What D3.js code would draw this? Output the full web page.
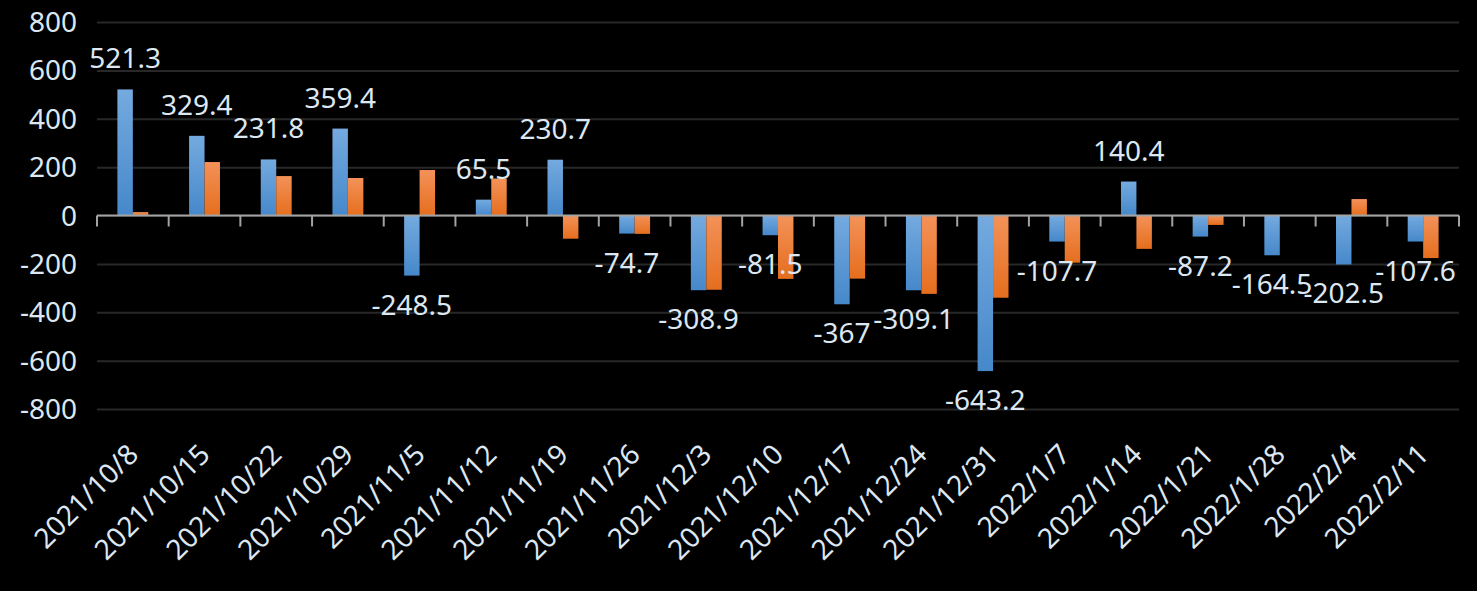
<!DOCTYPE html>
<html>
<head>
<meta charset="utf-8">
<script src="https://cdn.jsdelivr.net/npm/d3@7"></script>
<style>
  html, body { margin: 0; padding: 0; background: #000; }
  svg { display: block; }
  text { font-family: "Noto Sans", "Open Sans", sans-serif; fill: #dde7f2; }
</style>
</head>
<body>
<svg id="chart"></svg>
<script>
// week labels
const categories = [
  '2021/10/8', '2021/10/15', '2021/10/22', '2021/10/29', '2021/11/5',
  '2021/11/12', '2021/11/19', '2021/11/26', '2021/12/3', '2021/12/10',
  '2021/12/17', '2021/12/24', '2021/12/31', '2022/1/7', '2022/1/14',
  '2022/1/21', '2022/1/28', '2022/2/4', '2022/2/11'
];

// blue series (labelled)
const seriesBlue = [
  521.3, 329.4, 231.8, 359.4, -248.5, 65.5, 230.7, -74.7, -308.9, -81.5,
  -367, -309.1, -643.2, -107.7, 140.4, -87.2, -164.5, -202.5, -107.6
];

// orange series (no labels)
const seriesOrange = [
  14, 221, 163, 155, 188, 153, -96, -76, -307, -262,
  -261, -324, -340, -195, -138, -39, null, 68, -176
];

const yTicks = [-800, -600, -400, -200, 0, 200, 400, 600, 800];

const width = 1477;
const height = 591;
const margin = { top: 22, right: 18, bottom: 182, left: 97 };

const svg = d3.select('#chart')
  .attr('width', width)
  .attr('height', height);

const chartWidth = width - margin.left - margin.right;
const chartHeight = height - margin.top - margin.bottom;

const g = svg.append('g')
  .attr('transform', `translate(${margin.left}, ${margin.top})`);

// gradients like the spreadsheet fill
const defs = svg.append('defs');
const grads = [
  { id: 'gBlue', top: '#74aadf', bottom: '#4688ca' },
  { id: 'gOrange', top: '#f39259', bottom: '#e56e1e' }
];
grads.forEach((gd) => {
  const lg = defs.append('linearGradient')
    .attr('id', gd.id)
    .attr('x1', 0).attr('y1', 0).attr('x2', 0).attr('y2', 1);
  lg.append('stop').attr('offset', '0%').attr('stop-color', gd.top);
  lg.append('stop').attr('offset', '100%').attr('stop-color', gd.bottom);
});

// scales
const xScale = d3.scaleBand()
  .domain(categories)
  .range([0, chartWidth]);

const series = ['blue', 'orange'];
const xInner = d3.scaleBand()
  .domain(series)
  .range([0, xScale.bandwidth()])
  .paddingOuter(1.32);

const yScale = d3.scaleLinear()
  .domain([-800, 800])
  .range([chartHeight, 0]);

// grid lines
g.append('g')
  .call(d3.axisLeft(yScale).tickValues(yTicks).tickSize(-chartWidth).tickFormat(''))
  .call((s) => s.select('.domain').remove())
  .call((s) => s.selectAll('line').attr('stroke', '#282828').attr('stroke-width', 2));

// y tick labels
g.append('g')
  .selectAll('text')
  .data(yTicks)
  .enter()
  .append('text')
  .attr('x', -20)
  .attr('y', (d) => yScale(d))
  .attr('dy', '0.36em')
  .style('text-anchor', 'end')
  .style('font-size', '28px')
  .text((d) => d);

// bars
const rows = categories.map((c, i) => ({
  cat: c,
  values: [
    { key: 'blue', v: seriesBlue[i] },
    { key: 'orange', v: seriesOrange[i] }
  ]
}));

const groups = g.selectAll('.grp')
  .data(rows)
  .enter()
  .append('g')
  .attr('transform', (d) => `translate(${xScale(d.cat)}, 0)`);

groups.selectAll('rect')
  .data((d) => d.values.filter((e) => e.v !== null))
  .enter()
  .append('rect')
  .attr('x', (d) => xInner(d.key))
  .attr('width', xInner.bandwidth())
  .attr('y', (d) => yScale(Math.max(0, d.v)))
  .attr('height', (d) => Math.abs(yScale(d.v) - yScale(0)))
  .attr('fill', (d) => (d.key === 'blue' ? 'url(#gBlue)' : 'url(#gOrange)'));

// zero axis line with ticks
const xAxis = g.append('g')
  .attr('transform', `translate(0, ${yScale(0)})`);

xAxis.append('line')
  .attr('x1', 0)
  .attr('x2', chartWidth)
  .attr('stroke', '#a3a3a3')
  .attr('stroke-width', 2);

const tickPos = categories.map((c) => xScale(c)).concat([chartWidth]);
xAxis.selectAll('.tk')
  .data(tickPos)
  .enter()
  .append('line')
  .attr('x1', (d) => d)
  .attr('x2', (d) => d)
  .attr('y1', 0)
  .attr('y2', 11)
  .attr('stroke', '#a3a3a3')
  .attr('stroke-width', 2);

// data labels on blue series
g.selectAll('.lbl')
  .data(rows)
  .enter()
  .append('text')
  .attr('x', (d) => xScale(d.cat) + xInner('blue') + xInner.bandwidth() / 2)
  .attr('y', (d) => {
    const v = d.values[0].v;
    return v >= 0 ? yScale(v) - 21 : yScale(v) + 39;
  })
  .style('text-anchor', 'middle')
  .style('font-size', '28px')
  .text((d) => d.values[0].v);

// rotated category labels at the bottom
g.selectAll('.cat')
  .data(categories)
  .enter()
  .append('text')
  .attr('transform', (d) => `translate(${xScale(d) + xScale.bandwidth() / 2}, ${449 - margin.top}) rotate(-45)`)
  .attr('dy', '0.36em')
  .style('text-anchor', 'end')
  .style('font-size', '28px')
  .text((d) => d);
</script>
</body>
</html>
